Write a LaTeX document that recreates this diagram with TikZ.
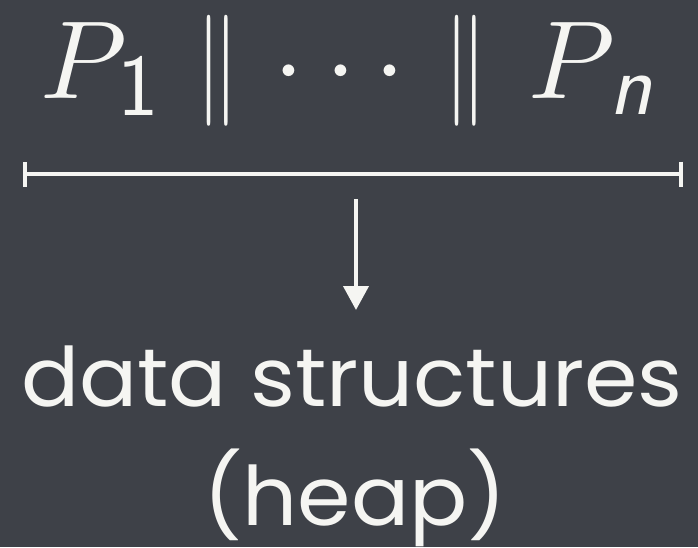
\documentclass[tikz,border=0pt]{standalone}
\usepackage{fontspec}
\newfontfamily\chalkfont{Poppins}
\usetikzlibrary{arrows.meta}
\definecolor{board}{HTML}{3E4148}
\definecolor{chalk}{HTML}{F5F5F2}

\begin{document}
\begin{tikzpicture}[x=1pt,y=-1pt,
    every node/.style={inner sep=0pt,text=chalk},
    bigmath/.style={font=\fontsize{10}{10}\selectfont,scale=11.1,anchor=base west},
    submath/.style={font=\fontsize{88}{88}\selectfont\sffamily,anchor=base west},
    chalktext/.style={font=\fontsize{82}{96}\selectfont\chalkfont,anchor=base,xscale=1.05},
    chalkline/.style={draw=chalk,line width=4pt}]
  \fill[board] (0,0) rectangle (698,547);
  \useasboundingbox (0,0) rectangle (698,547);
  % the parallel composition
  \node[bigmath] (p1) at (38,98) {$P$};
  \node[submath] (s1) at (117,115) {1};
  \node[bigmath,anchor=base,xscale=0.8] (bar1) at (218,98) {$\|$};
  \foreach \x/\n in {289/1,341/2,390/3}
    \node[bigmath,anchor=base] (dot\n) at (\x,98) {$\cdot$};
  \node[bigmath,anchor=base,xscale=0.8] (bar2) at (466,98) {$\|$};
  \node[bigmath] (pn) at (526,98) {$P$};
  \node[submath] (sn) at (609,114) {\itshape n};
  % bracket and arrow
  \coordinate (lineL) at (23,174);
  \coordinate (lineR) at (683,174);
  \draw[chalkline,{Bar[width=25pt]}-{Bar[width=25pt]}] (lineL) -- (lineR);
  \coordinate (arrtop) at (356,199);
  \coordinate (arrtip) at (356,310);
  \draw[chalkline,-{Triangle[length=24pt,width=25pt]}] (arrtop) -- (arrtip);
  % what they share
  \node[chalktext] (ds) at (352,406) {data structures};
  \node[chalktext] (heap) at (355,525) {(heap)};
\end{tikzpicture}
\end{document}
